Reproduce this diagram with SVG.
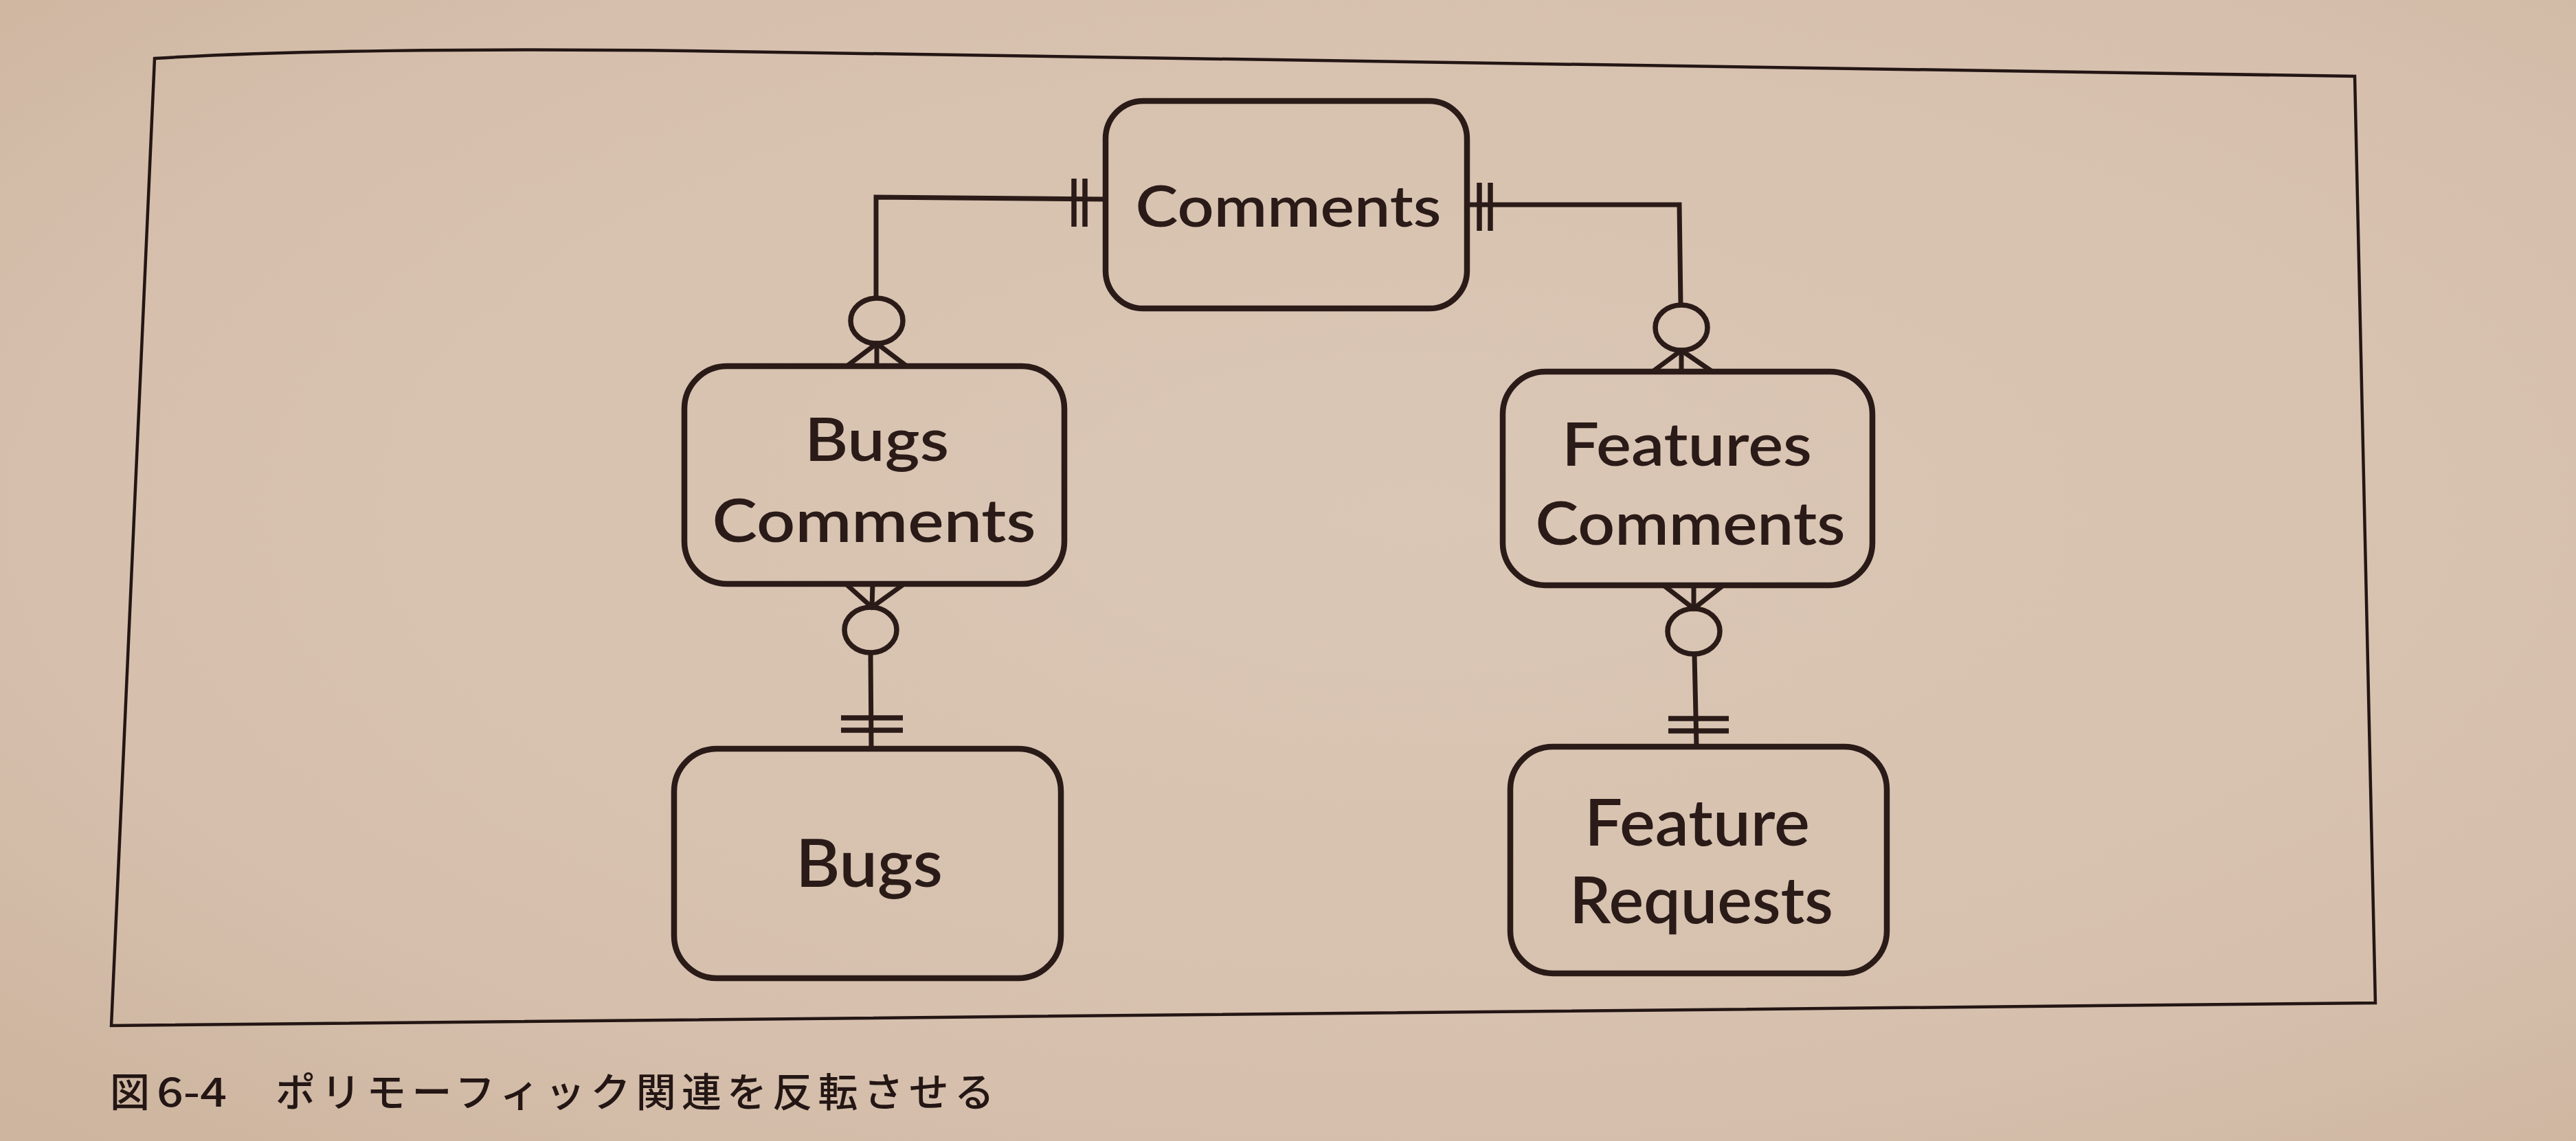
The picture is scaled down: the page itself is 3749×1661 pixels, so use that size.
<svg xmlns="http://www.w3.org/2000/svg" width="3749" height="1661" viewBox="0 0 3749 1661">
  <defs>
    <radialGradient id="paper" cx="0.55" cy="0.45" r="0.75">
      <stop offset="0" stop-color="#dbc7b6"/>
      <stop offset="0.7" stop-color="#d6c0ad"/>
      <stop offset="1" stop-color="#cdb59f"/>
    </radialGradient>
    <style>
      .box { fill: none; stroke: #2a1b18; stroke-width: 8.5; }
      .line { fill: none; stroke: #2a1b18; stroke-width: 7; stroke-linecap: butt; }
      .bar { fill: none; stroke: #2a1b18; stroke-width: 7.5; }
      .ring { fill: none; stroke: #2a1b18; stroke-width: 7.5; }
      .frame { fill: none; stroke: #231614; stroke-width: 4.5; stroke-linejoin: miter; }
      .label { font-family: Lato, "Noto Sans", sans-serif; font-weight: 600; fill: #2a1b18; text-anchor: middle; }
      .caption { font-family: "Noto Sans CJK JP", "Noto Sans", sans-serif; font-weight: 500; fill: #231614; }
    </style>
  </defs>

  <!-- page -->
  <rect x="0" y="0" width="3749" height="1661" fill="url(#paper)"/>

  <!-- figure border (page is slightly curved) -->
  <path class="frame" d="M225,85 C400,74 700,70 1000,74 L3427,111 L3457,1460 L162,1493 Z"/>

  <!-- connectors: one-and-only-one bars, zero-or-many rings and crow's feet -->
  <g id="connectors">
    <!-- Comments -> Bugs Comments -->
    <polyline class="line" points="1607,290 1275,287 1275,434"/>
    <line class="bar" x1="1563" y1="260" x2="1563" y2="330"/>
    <line class="bar" x1="1579" y1="260" x2="1579" y2="330"/>
    <ellipse class="ring" cx="1276" cy="467" rx="38" ry="33"/>
    <polyline class="line" points="1231,534 1276,500 1321,534"/>
    <line class="line" x1="1276" y1="500" x2="1276" y2="534"/>

    <!-- Comments -> Features Comments -->
    <polyline class="line" points="2135,298 2444,298 2446,444"/>
    <line class="bar" x1="2153" y1="266" x2="2153" y2="336"/>
    <line class="bar" x1="2169" y1="266" x2="2169" y2="336"/>
    <ellipse class="ring" cx="2447" cy="477" rx="38" ry="33"/>
    <polyline class="line" points="2405,541 2447,510 2492,541"/>
    <line class="line" x1="2447" y1="510" x2="2447" y2="541"/>

    <!-- Bugs Comments -> Bugs -->
    <polyline class="line" points="1231,850 1269,884 1316,850"/>
    <line class="line" x1="1270" y1="850" x2="1269" y2="884"/>
    <ellipse class="ring" cx="1267" cy="917" rx="38" ry="33"/>
    <line class="line" x1="1267" y1="950" x2="1268" y2="1090"/>
    <line class="bar" x1="1224" y1="1045" x2="1314" y2="1045"/>
    <line class="bar" x1="1224" y1="1063" x2="1314" y2="1063"/>

    <!-- Features Comments -> Feature Requests -->
    <polyline class="line" points="2421,852 2465,886 2508,852"/>
    <line class="line" x1="2465" y1="852" x2="2465" y2="886"/>
    <ellipse class="ring" cx="2465" cy="919" rx="38" ry="33"/>
    <line class="line" x1="2466" y1="952" x2="2469" y2="1087"/>
    <line class="bar" x1="2428" y1="1046" x2="2516" y2="1046"/>
    <line class="bar" x1="2428" y1="1064" x2="2516" y2="1064"/>
  </g>

  <g id="comments">
    <rect class="box" x="1609" y="147" width="526" height="302" rx="55" ry="55"/>
    <text class="label" x="1875" y="330" font-size="83" textLength="445" lengthAdjust="spacingAndGlyphs">Comments</text>
  </g>

  <g id="bugs-comments">
    <rect class="box" x="996" y="533" width="553" height="317" rx="62" ry="62"/>
    <text class="label" x="1276" y="671" font-size="87" textLength="210" lengthAdjust="spacingAndGlyphs">Bugs</text>
    <text class="label" x="1272" y="789" font-size="87" textLength="471" lengthAdjust="spacingAndGlyphs">Comments</text>
  </g>

  <g id="features-comments">
    <rect class="box" x="2187" y="541" width="538" height="311" rx="62" ry="62"/>
    <text class="label" x="2455" y="678" font-size="87" textLength="364" lengthAdjust="spacingAndGlyphs">Features</text>
    <text class="label" x="2460" y="793" font-size="87" textLength="451" lengthAdjust="spacingAndGlyphs">Comments</text>
  </g>

  <g id="bugs">
    <rect class="box" x="981" y="1090" width="563" height="334" rx="62" ry="62"/>
    <text class="label" x="1265" y="1291" font-size="96" textLength="214" lengthAdjust="spacingAndGlyphs">Bugs</text>
  </g>

  <g id="feature-requests">
    <rect class="box" x="2198" y="1087" width="548" height="330" rx="62" ry="62"/>
    <text class="label" x="2470" y="1231" font-size="95" textLength="328" lengthAdjust="spacingAndGlyphs">Feature</text>
    <text class="label" x="2476" y="1344" font-size="95" textLength="384" lengthAdjust="spacingAndGlyphs">Requests</text>
  </g>

  <!-- figure caption -->
  <g id="caption">
    <text class="caption" x="160" y="1611" font-size="58">図</text>
    <text class="caption" x="228" y="1611" font-size="58" textLength="102" lengthAdjust="spacingAndGlyphs">6-4</text>
    <text class="caption" x="401" y="1611" font-size="58" textLength="1046" lengthAdjust="spacing">ポリモーフィック関連を反転させる</text>
  </g>
</svg>
